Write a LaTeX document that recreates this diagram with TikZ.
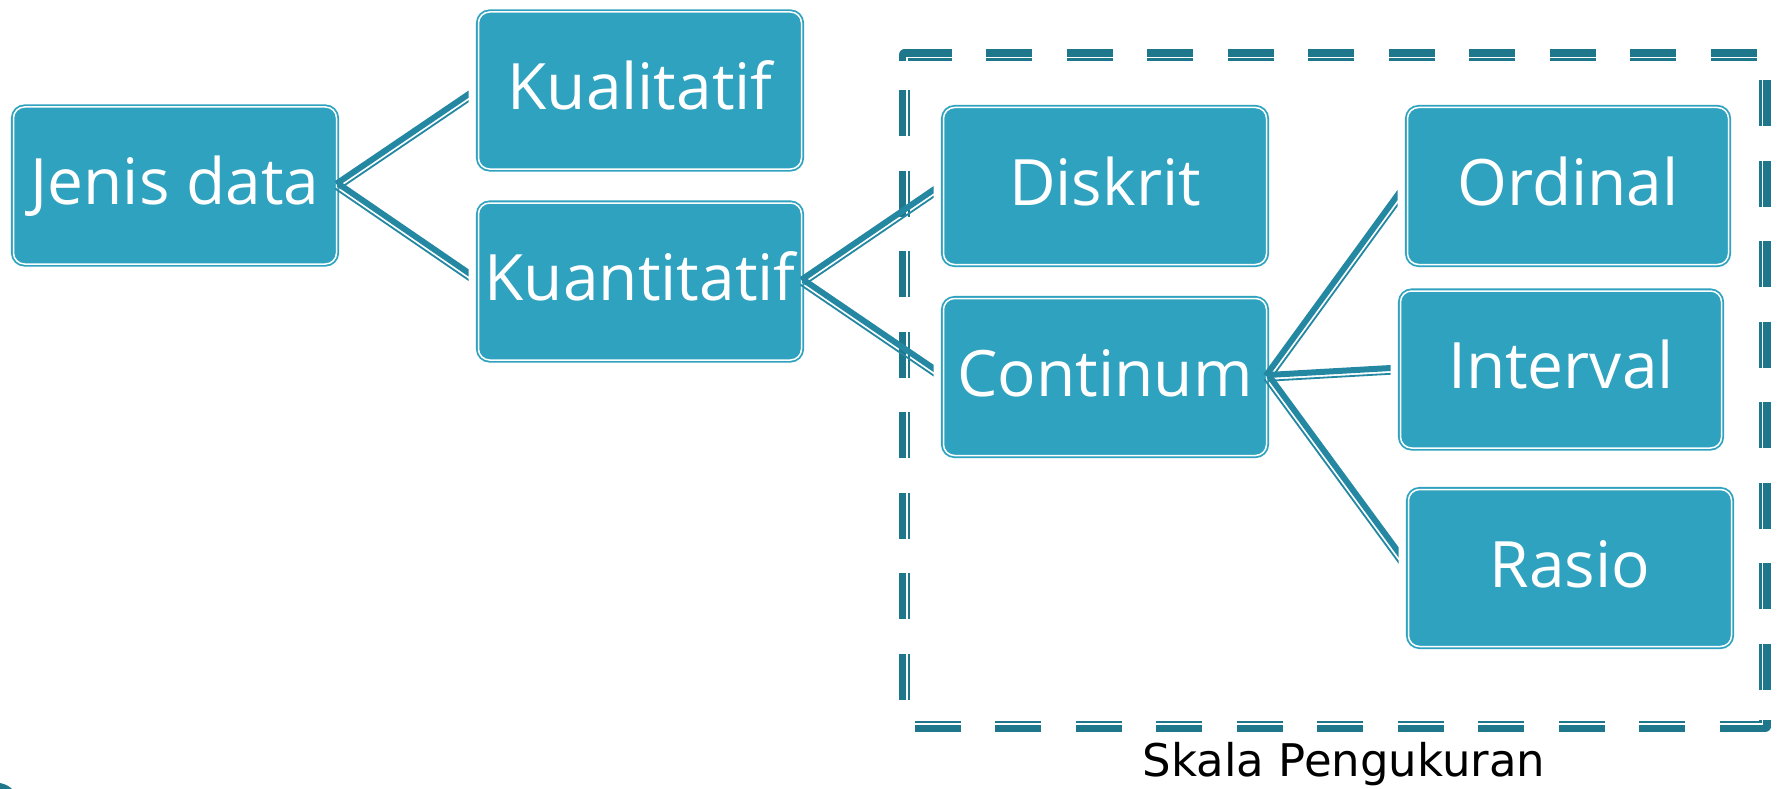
\documentclass[tikz,border=0pt]{standalone}
\usepackage{fontspec}
\setmainfont{Open Sans}
\newfontfamily\skalafont{DejaVu Sans}
\usetikzlibrary{calc}
\definecolor{boxc}{RGB}{46,162,191}
\definecolor{linec}{RGB}{36,136,162}
\definecolor{framec}{RGB}{31,119,140}
\newcommand{\linkpair}[2]{%
  \begin{scope}
    \clip ([xshift=-12pt,yshift=-400pt]#1) rectangle ([xshift=-9pt,yshift=400pt]#2);
    \draw[thickc] ($(#1)!2pt!90:(#2)$) -- ($(#2)!2pt!-90:(#1)$);
    \draw[thinc] ($(#1)!3.8pt!-90:(#2)$) -- ($(#2)!3.8pt!90:(#1)$);
  \end{scope}}
\begin{document}
\begin{tikzpicture}[x=1pt,y=-1pt,
  box/.style={draw=boxc, double=white, line width=1.8pt, double distance=1.5pt,
    fill=boxc, rounded corners=11pt, minimum width=323pt, minimum height=157pt,
    inner sep=0pt, text=white, font=\fontsize{64}{64}\selectfont,
    text height=38pt, text depth=0pt},
  thickc/.style={draw=linec, line width=6pt},
  thinc/.style={draw=linec, line width=1.8pt},
  fband/.style={draw=framec, line width=11.5pt, dash pattern=on 46pt off 34.5pt},
  fcorner/.style={draw=framec, line width=11.5pt, line join=round},
]
\useasboundingbox (0,0) rectangle (1777,789);

% dashed frame (compound line: thick outer, thin inner)
\draw[fband] (905.6,55) -- (1756.6,55);
\draw[fband] (1765,80) -- (1765,689.5);
\draw[fband] (914.8,726.5) -- (1765.8,726.5);
\draw[fband] (904.5,90) -- (904.5,699.5);
\draw[fcorner] (904.5,61) -- (904.5,55) -- (951.6,55);
\draw[fcorner] (1722,726.5) -- (1765,726.5) -- (1765,720);
\draw[white, line width=1.5pt] (907,57.5) rectangle (1762.5,723.8);

% boxes
\node[box] (jenis) at (175,185.5) {Jenis data};
\node[box] (kual) at (640,90.5) {Kualitatif};
\node[box] (kuan) at (640,281.5) {Kuantitatif};
\node[box] (disk) at (1105,186) {Diskrit};
\node[box] (cont) at (1105,377) {Continum};
\node[box, minimum width=321pt] (ord) at (1568,186) {Ordinal};
\node[box, minimum width=321pt] (intv) at (1561,369.5) {Interval};
\node[box] (ras) at (1570,568) {Rasio};

% connectors
\linkpair{jenis.east}{kual.west}
\linkpair{jenis.east}{kuan.west}
\linkpair{kuan.east}{disk.west}
\linkpair{kuan.east}{cont.west}
\linkpair{cont.east}{ord.west}
\linkpair{cont.east}{intv.west}
\linkpair{cont.east}{ras.west}

% label
\node[font=\skalafont\fontsize{45}{45}\selectfont, anchor=base, text=black] (skala) at (1344,776) {Skala Pengukuran};

% corner fragment
\fill[framec] (0,783) .. controls (5,784) and (9,786) .. (12,789) -- (0,789) -- cycle;
\end{tikzpicture}
\end{document}
